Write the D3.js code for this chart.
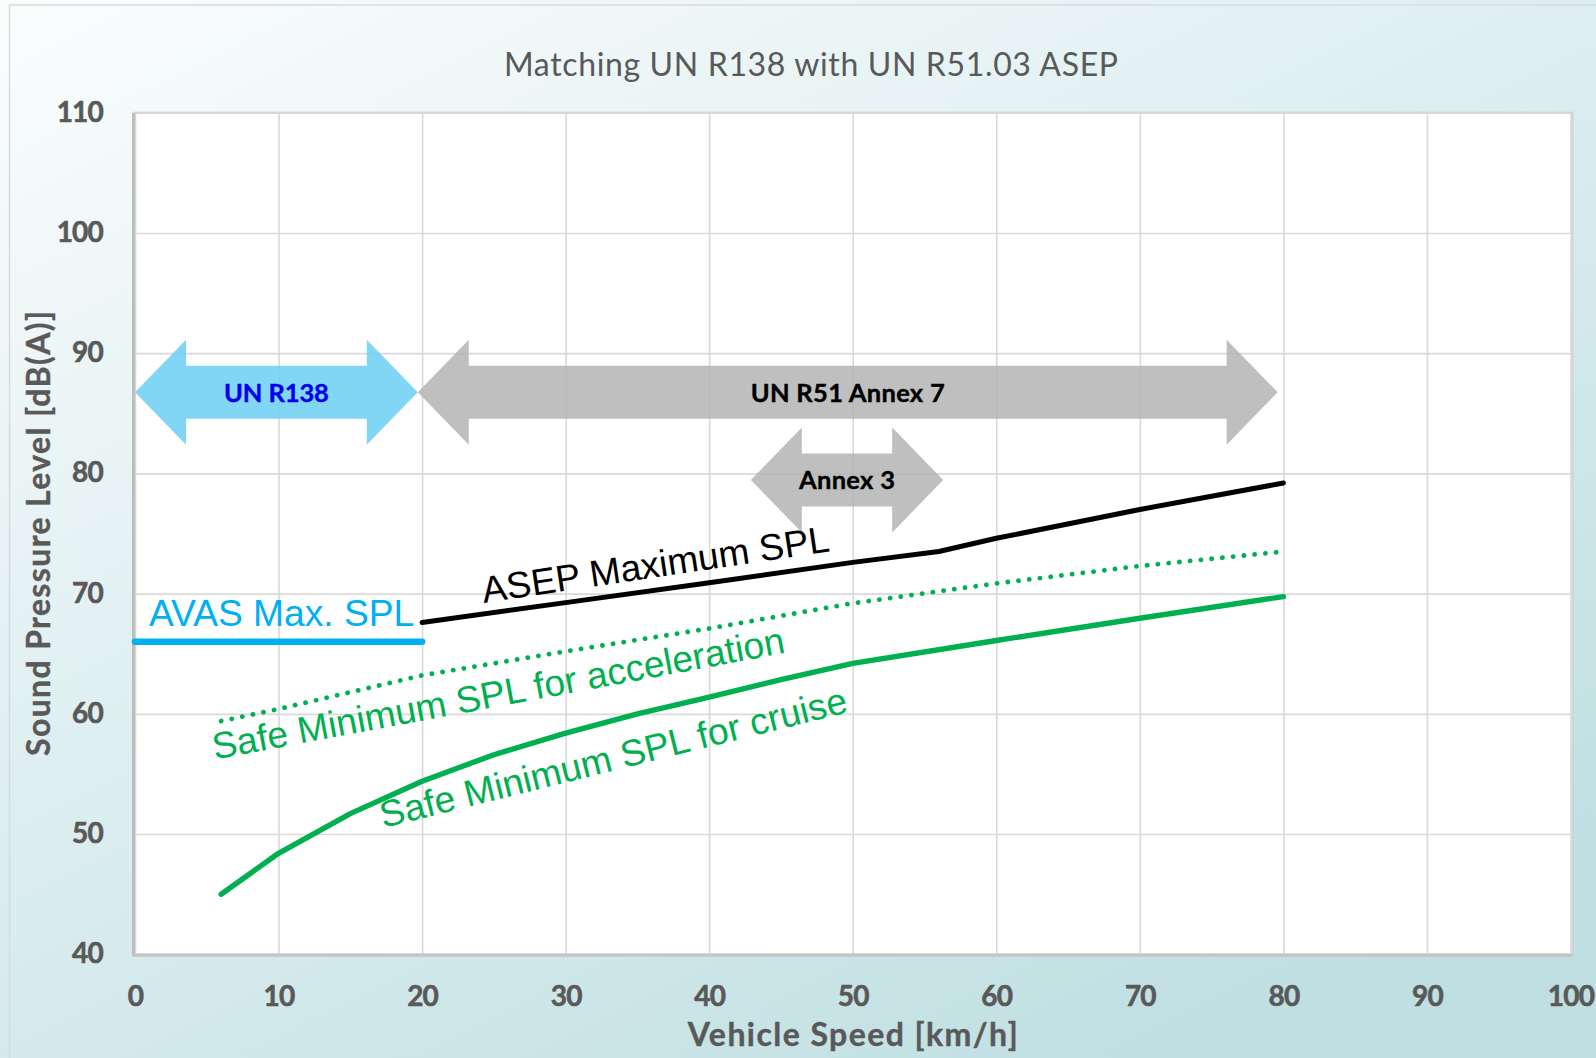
<!DOCTYPE html>
<html>
<head>
<meta charset="utf-8">
<script src="https://cdn.jsdelivr.net/npm/d3@7"></script>
<style>
  html, body { margin: 0; padding: 0; background: #ffffff; }
  svg { display: block; }
</style>
</head>
<body>
<svg id="chart" width="1596" height="1058"></svg>
<script>
// ---- chart text ----
const chartTitle = "Matching UN R138 with UN R51.03 ASEP";
const xTitle = "Vehicle Speed [km/h]";
const yTitle = "Sound Pressure Level [dB(A)]";

// ---- axis ticks ----
const xTicks = [0, 10, 20, 30, 40, 50, 60, 70, 80, 90, 100];
const yTicks = [40, 50, 60, 70, 80, 90, 100, 110];

// ---- AVAS maximum (UN R138) ----
const avasSpeed = [0, 20];
const avasLevel = [66, 66];

// ---- ASEP maximum SPL (UN R51.03) ----
const asepSpeed = [20, 30, 40, 50, 56, 60, 70, 80];
const asepLevel = [67.6, 69.25, 70.9, 72.6, 73.5, 74.6, 77.0, 79.2];

// ---- safe minimum SPL for acceleration ----
const accelSpeed = [6, 10, 20, 30, 40, 50, 60, 70, 80];
const accelLevel = [59.4, 60.4, 63.2, 65.2, 67.1, 69.2, 70.85, 72.3, 73.5];

// ---- safe minimum SPL for cruise ----
const cruiseSpeed = [6, 10, 15, 20, 25, 30, 35, 40, 45, 50, 60, 70, 80];
const cruiseLevel = [45.0, 48.4, 51.7, 54.4, 56.6, 58.4, 60.0, 61.4, 62.85, 64.2, 66.1, 67.95, 69.75];

// ---- regulation speed ranges (double arrows) ----
const rangeLabels = ["UN R138", "UN R51 Annex 7", "Annex 3"];
const rangeFrom = [0, 19.7, 42.9];
const rangeTo = [19.7, 79.6, 56.3];
const rangeLevel = [86.75, 86.75, 79.45];

// ---- curve labels ----
const curveLabels = ["AVAS Max. SPL", "ASEP Maximum SPL",
                     "Safe Minimum SPL for acceleration", "Safe Minimum SPL for cruise"];

// ------------------------------------------------------------------
const W = 1596, H = 1058;
const plot = { left: 135, right: 1570.5, top: 112.7, bottom: 954.3 };
const calibriLike = "Lato, 'Open Sans', 'Noto Sans', sans-serif";
const arialLike = "'Liberation Sans', Arial, sans-serif";
const axisGray = "#595959";

const svg = d3.select("#chart");
const defs = svg.append("defs");

const bg = defs.append("linearGradient")
  .attr("id", "bgGrad")
  .attr("x1", 0).attr("y1", 0).attr("x2", 0.75).attr("y2", 1);
bg.append("stop").attr("offset", 0).attr("stop-color", "#fbfdfd");
bg.append("stop").attr("offset", 1).attr("stop-color", "#bfdfe2");

svg.append("rect").attr("width", W).attr("height", H).attr("fill", "url(#bgGrad)");
svg.append("rect")
  .attr("x", 9.5).attr("y", 5).attr("width", W + 40).attr("height", H + 40)
  .attr("fill", "none").attr("stroke", "#d6dcdd").attr("stroke-width", 1.5);

const x = d3.scaleLinear().domain([0, 100]).range([plot.left, plot.right]);
const y = d3.scaleLinear().domain([40, 110]).range([plot.bottom, plot.top]);

// plot area
svg.append("rect")
  .attr("x", plot.left).attr("y", plot.top)
  .attr("width", plot.right - plot.left + 2).attr("height", plot.bottom - plot.top)
  .attr("fill", "#ffffff").attr("stroke", "#d2d2d2").attr("stroke-width", 2);

// title
svg.append("text")
  .attr("x", 811).attr("y", 76)
  .attr("text-anchor", "middle")
  .attr("font-family", calibriLike).attr("font-size", 32)
  .attr("fill", axisGray)
  .attr("textLength", 614).attr("lengthAdjust", "spacing")
  .text(chartTitle);

// y axis with horizontal gridlines
const yAxis = svg.append("g")
  .attr("transform", `translate(${plot.left},0)`)
  .call(d3.axisLeft(y).tickValues(yTicks).tickSize(-(plot.right - plot.left)).tickSizeOuter(0).tickPadding(32));
yAxis.selectAll(".tick line").attr("stroke", "#d9d9d9").attr("stroke-width", 1.6);
yAxis.selectAll(".tick text")
  .attr("font-family", calibriLike).attr("font-weight", 700).attr("font-size", 28)
  .attr("fill", axisGray).attr("stroke", axisGray).attr("stroke-width", 0.6)
  .attr("dy", "0.3em").attr("letter-spacing", -0.8);
yAxis.select(".domain").remove();

// x axis with vertical gridlines
const xAxis = svg.append("g")
  .attr("transform", `translate(0,${plot.bottom})`)
  .call(d3.axisBottom(x).tickValues(xTicks).tickSize(-(plot.bottom - plot.top)).tickSizeOuter(0).tickPadding(32));
xAxis.selectAll(".tick line").attr("stroke", "#d9d9d9").attr("stroke-width", 1.6);
xAxis.selectAll(".tick text")
  .attr("font-family", calibriLike).attr("font-weight", 700).attr("font-size", 28)
  .attr("fill", axisGray).attr("stroke", axisGray).attr("stroke-width", 0.6)
  .attr("letter-spacing", -0.8);
xAxis.select(".domain").remove();

// axis lines
svg.append("line")
  .attr("x1", plot.left - 1.5).attr("x2", plot.left - 1.5)
  .attr("y1", plot.top).attr("y2", plot.bottom + 1.5)
  .attr("stroke", "#bdbdbd").attr("stroke-width", 3);
svg.append("line")
  .attr("x1", plot.left - 3).attr("x2", plot.right + 2)
  .attr("y1", plot.bottom + 1).attr("y2", plot.bottom + 1)
  .attr("stroke", "#c4c4c4").attr("stroke-width", 3);

// axis titles
svg.append("text")
  .attr("x", (plot.left + plot.right) / 2).attr("y", 1046)
  .attr("text-anchor", "middle")
  .attr("font-family", calibriLike).attr("font-weight", 700).attr("font-size", 32)
  .attr("fill", axisGray).attr("stroke", axisGray).attr("stroke-width", 0.4)
  .attr("textLength", 330).attr("lengthAdjust", "spacing")
  .text(xTitle);
svg.append("text")
  .attr("transform", `translate(50,${(plot.top + plot.bottom) / 2}) rotate(-90)`)
  .attr("text-anchor", "middle")
  .attr("font-family", calibriLike).attr("font-weight", 700).attr("font-size", 32)
  .attr("fill", axisGray).attr("stroke", axisGray).attr("stroke-width", 0.4)
  .attr("textLength", 445).attr("lengthAdjust", "spacing")
  .text(yTitle);

// speed-range double arrows
const headLen = 51, headHalf = 52.5, shaftHalf = 26.5;
function doubleArrow(x0, x1, yc) {
  return `M${x0},${yc} L${x0 + headLen},${yc - headHalf} L${x0 + headLen},${yc - shaftHalf}` +
         ` L${x1 - headLen},${yc - shaftHalf} L${x1 - headLen},${yc - headHalf} L${x1},${yc}` +
         ` L${x1 - headLen},${yc + headHalf} L${x1 - headLen},${yc + shaftHalf}` +
         ` L${x0 + headLen},${yc + shaftHalf} L${x0 + headLen},${yc + headHalf} Z`;
}
const arrowFill = ["rgb(108,207,243)", "rgb(180,180,180)", "rgb(180,180,180)"];
const arrowText = ["#0000f0", "#000000", "#000000"];
const arrowTextLen = [105, 194, 96];
const ranges = rangeLabels.map((label, i) => ({
  label, from: rangeFrom[i], to: rangeTo[i], level: rangeLevel[i], i
}));
const arrows = svg.append("g").selectAll("g").data(ranges).join("g");
arrows.append("path")
  .attr("d", d => doubleArrow(x(d.from), x(d.to), y(d.level)))
  .attr("fill", d => arrowFill[d.i]).attr("fill-opacity", 0.85);
arrows.append("text")
  .attr("x", d => (x(d.from) + x(d.to)) / 2)
  .attr("y", d => y(d.level) + 9.5)
  .attr("text-anchor", "middle")
  .attr("font-family", calibriLike).attr("font-weight", 700).attr("font-size", 25.5)
  .attr("fill", d => arrowText[d.i]).attr("stroke", d => arrowText[d.i]).attr("stroke-width", 0.4)
  .attr("textLength", d => arrowTextLen[d.i]).attr("lengthAdjust", "spacing")
  .text(d => d.label);

// curves
const line = d3.line().x(d => x(d[0])).y(d => y(d[1]));
const zip = (a, b) => a.map((v, i) => [v, b[i]]);

svg.append("path").datum(zip(accelSpeed, accelLevel))
  .attr("d", line).attr("fill", "none")
  .attr("stroke", "#00b050").attr("stroke-width", 4.8)
  .attr("stroke-linecap", "round").attr("stroke-dasharray", "0.1 10.7");

svg.append("path").datum(zip(cruiseSpeed, cruiseLevel))
  .attr("d", line).attr("fill", "none")
  .attr("stroke", "#00b050").attr("stroke-width", 5.4)
  .attr("stroke-linecap", "round").attr("stroke-linejoin", "round");

svg.append("path").datum(zip(asepSpeed, asepLevel))
  .attr("d", line).attr("fill", "none")
  .attr("stroke", "#000000").attr("stroke-width", 5)
  .attr("stroke-linecap", "round").attr("stroke-linejoin", "round");

svg.append("path").datum(zip(avasSpeed, avasLevel))
  .attr("d", line).attr("fill", "none")
  .attr("stroke", "#00b0f0").attr("stroke-width", 6.5)
  .attr("stroke-linecap", "round");

// curve labels (anchored in data coordinates)
const labelSpecs = [
  { text: curveLabels[0], sx: 0.98, sy: 67.33, angle: 0,     color: "#00b0f0" },
  { text: curveLabels[1], sx: 24.3, sy: 69.22, angle: -8.5,  color: "#000000" },
  { text: curveLabels[2], sx: 5.55, sy: 56.2,  angle: -10.6, color: "#00b050" },
  { text: curveLabels[3], sx: 17.3, sy: 50.5,  angle: -14.0, color: "#00b050" }
];
svg.append("g").selectAll("text").data(labelSpecs).join("text")
  .attr("transform", d => `translate(${x(d.sx)},${y(d.sy)}) rotate(${d.angle})`)
  .attr("font-family", arialLike).attr("font-size", 37.2)
  .attr("fill", d => d.color)
  .text(d => d.text);
</script>
</body>
</html>
